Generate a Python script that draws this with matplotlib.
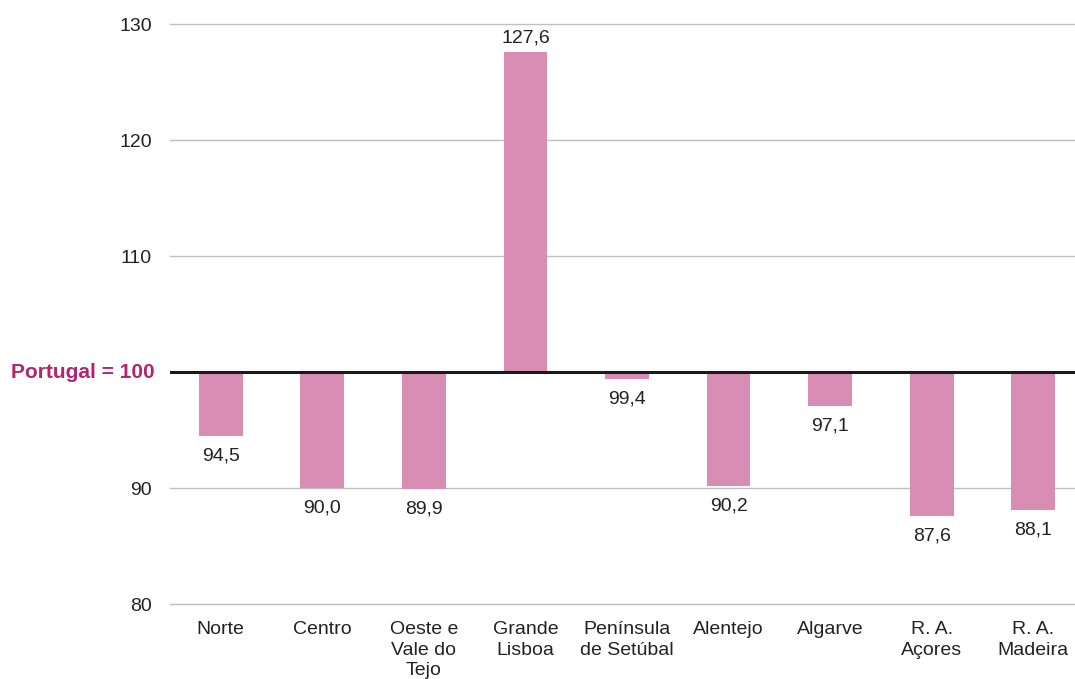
import matplotlib
matplotlib.use("Agg")
import matplotlib.pyplot as plt
from matplotlib.transforms import blended_transform_factory

plt.rcParams["font.family"] = ["Liberation Sans", "DejaVu Sans"]

regioes = ["Norte", "Centro", "Oeste e\nVale do\nTejo", "Grande\nLisboa",
           "Península\nde Setúbal", "Alentejo", "Algarve", "R. A.\nAçores",
           "R. A.\nMadeira"]
indice = [94.5, 90.0, 89.9, 127.6, 99.4, 90.2, 97.1, 87.6, 88.1]
base = 100
yticks = [80, 90, 110, 120, 130]

BAR = "#D98DB5"
MAGENTA = "#B5236F"
TXT = "#222222"
FS = 14

fig = plt.figure(figsize=(10.75, 6.79), dpi=100)
ax = fig.add_axes([170 / 1075, 75 / 679, 914 / 1075, 580 / 679])

x = range(len(regioes))
alturas = [v - base for v in indice]
ax.bar(x, alturas, bottom=base, width=0.43, color=BAR, zorder=2)

# rótulos: acima da barra se > 100, abaixo se < 100
for xi, v in zip(x, indice):
    txt = f"{v:.1f}".replace(".", ",")
    if v >= base:
        ax.annotate(txt, (xi, v), xytext=(0, 4), textcoords="offset points",
                    ha="center", va="bottom", fontsize=FS, color=TXT)
    else:
        ax.annotate(txt, (xi, v), xytext=(0, -8.5), textcoords="offset points",
                    ha="center", va="top", fontsize=FS, color=TXT)

ax.axhline(base, color="#1a1a1a", lw=2.2, zorder=3)

ax.set_ylim(80, 130)
ax.set_xlim(-0.5, len(regioes) - 0.5)
ax.set_yticks(yticks)
ax.set_yticklabels([str(t) for t in yticks])
ax.grid(axis="y", color="#BFBFBF", lw=1, zorder=0)
for g in ax.get_ygridlines():
    g.set_clip_on(False)
ax.set_xticks(list(x))
ax.set_xticklabels(regioes, fontsize=FS, color=TXT, linespacing=1.3)
ax.tick_params(axis="y", length=0, pad=13, labelsize=FS, labelcolor=TXT)
ax.tick_params(axis="x", length=0, pad=12)
for s in ax.spines.values():
    s.set_visible(False)

trans = blended_transform_factory(fig.transFigure, ax.transData)
ax.text(155 / 1075, base, "Portugal = 100", transform=trans, ha="right",
        va="center", fontsize=15, fontweight="bold", color=MAGENTA)

fig.savefig("out.png", dpi=100)
